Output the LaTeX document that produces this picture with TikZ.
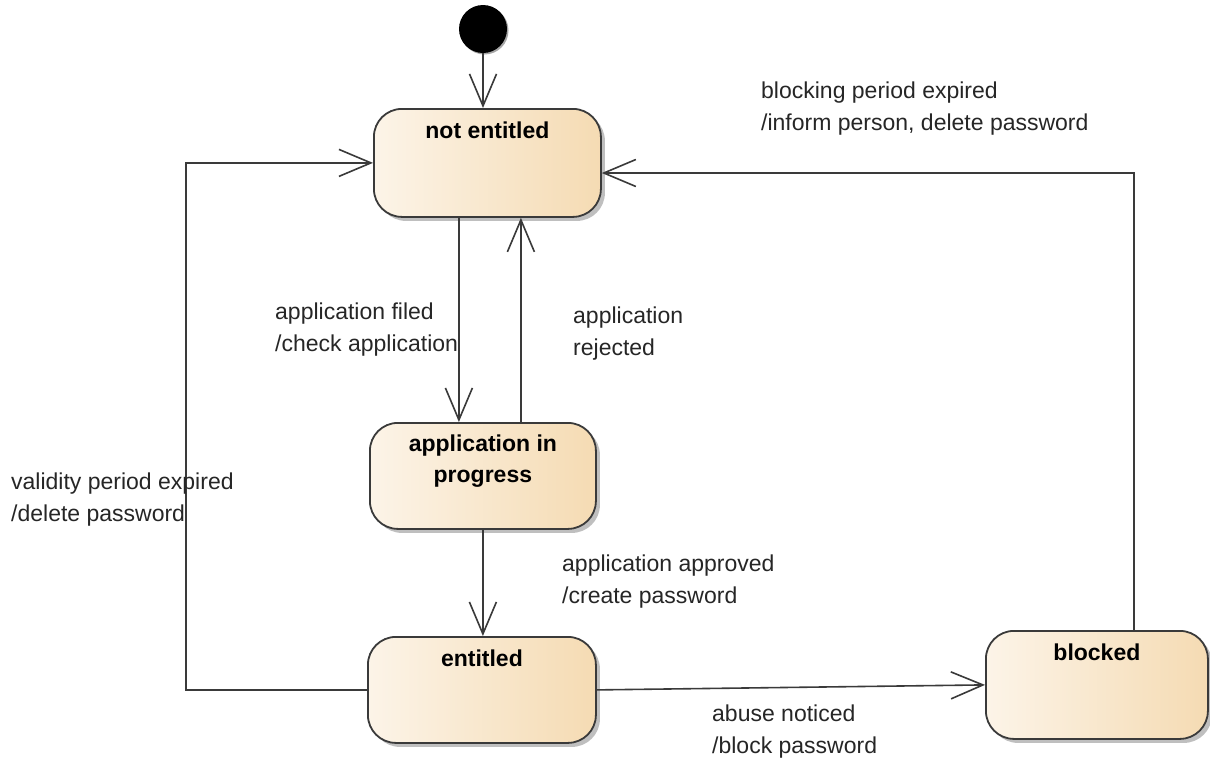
\documentclass[tikz,border=0pt]{standalone}
\usepackage{fontspec}
\setmainfont{Liberation Sans}
\usetikzlibrary{arrows.meta,shadows}
\definecolor{lineC}{HTML}{3A3A3A}
\definecolor{fillL}{HTML}{FCF4E8}
\definecolor{fillR}{HTML}{F5DBB3}
\begin{document}
\begin{tikzpicture}[x=1pt,y=-1pt,
  statebox/.style={draw=lineC, line width=1.8pt, rounded corners=28pt,
    left color=fillL, right color=fillR, shading angle=90,
    drop shadow={shadow xshift=4pt, shadow yshift=-4pt, opacity=0.25, fill=black},
    inner sep=0pt, anchor=north west},
  statetext/.style={font=\fontsize{23}{31}\selectfont\bfseries, align=center,
    anchor=north, inner sep=0pt, yshift=-14pt},
  lbl/.style={font=\fontsize{23}{31.5}\selectfont, align=left, anchor=north west, inner sep=0pt, text=black!85},
  trans/.style={draw=lineC, line width=1.6pt, -{Straight Barb[length=32pt,width=27pt,line width=1.6pt]}}
]
\useasboundingbox[fill=white] (0,0) rectangle (1210,758);

% initial state
\fill[gray!70] (484.5,30.5) circle (24);
\node[circle, fill=black, minimum size=48pt, inner sep=0pt] (init) at (483,29) {};

% states
\node[statebox, minimum width=227pt, minimum height=108pt] (ne) at (373,108) {};
\node[statetext] (netxt) at (ne.north) {not entitled};

\node[statebox, minimum width=226pt, minimum height=106pt] (aip) at (369,422) {};
\node[statetext, yshift=1pt] (aiptxt) at (aip.north) {application in\\progress};

\node[statebox, minimum width=228pt, minimum height=106pt] (ent) at (367,636) {};
\node[statetext] (enttxt) at (ent.north) {entitled};

\node[statebox, minimum width=222pt, minimum height=108pt] (blk) at (985,630) {};
\node[statetext] (blktxt) at (blk.north) {blocked};

% helper coordinates
\coordinate (lft) at (186,0);
\coordinate (rt) at (1134,173);

% transitions
\draw[trans] (init.south) -- (init.south |- ne.north);
\draw[trans] ([xshift=-28.5pt]ne.south) -- ([xshift=-28.5pt]ne.south |- aip.north);
\draw[trans] ([xshift=38pt]aip.north) -- ([xshift=38pt]aip.north |- ne.south);
\draw[trans] (aip.south) -- (aip.south |- ent.north);
\draw[trans] (ent.west) -- (ent.west -| lft) -- (ne.west -| lft) -- (ne.west);
\draw[trans] (ent.east) -- (blk.west);
\draw[trans] (blk.north -| rt) -- (rt) -- (rt -| ne.east);

% labels
\node[lbl] (l1) at (761,82) {blocking period expired\\/inform person, delete password};
\node[lbl] (l2) at (275,303) {application filed\\/check application};
\node[lbl] (l3) at (573,307) {application\\rejected};
\node[lbl] (l4) at (11,473) {validity period expired\\/delete password};
\node[lbl] (l5) at (562,555) {application approved\\/create password};
\node[lbl] (l6) at (712,705) {abuse noticed\\/block password};
\end{tikzpicture}
\end{document}
